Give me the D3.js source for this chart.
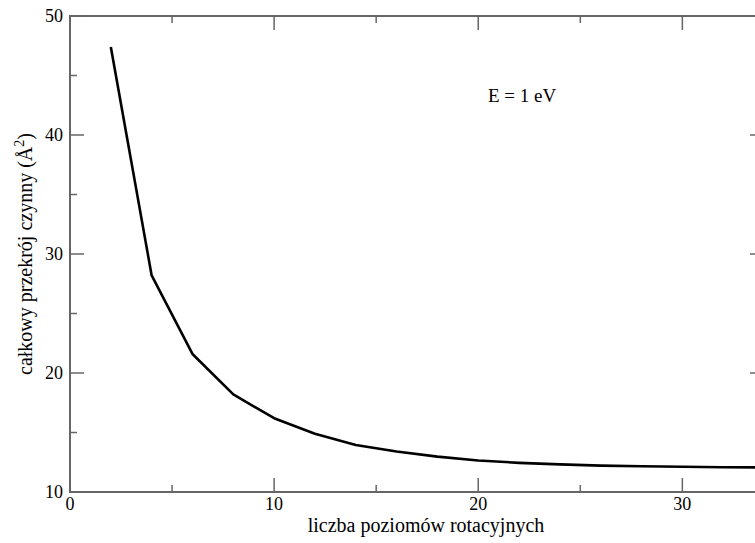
<!DOCTYPE html>
<html>
<head>
<meta charset="utf-8">
<script src="https://cdn.jsdelivr.net/npm/d3@7"></script>
<style>
  body { margin: 0; background: #fff; }
  svg text { font-family: "Liberation Serif", "Times New Roman", serif; fill: #000; }
</style>
</head>
<body>
<div id="chart"></div>
<script>
// liczba poziomów rotacyjnych
const levels = [2, 4, 6, 8, 10, 12, 14, 16, 18, 20, 22, 24, 26, 28, 30, 32, 34];
// całkowy przekrój czynny (Å^2)
const crossSection = [47.4, 28.2, 21.6, 18.2, 16.2, 14.9, 13.95, 13.4, 12.97, 12.65, 12.45, 12.32, 12.22, 12.17, 12.12, 12.08, 12.07];
const xMajor = [0, 10, 20, 30];
const xMinor = [5, 15, 25];
const yMajor = [10, 20, 30, 40, 50];
const yMinor = [15, 25, 35, 45];

const width = 755, height = 543;
const plotLeft = 70, plotTop = 16, plotRight = 764, plotBottom = 492;

const svg = d3.select("#chart")
  .append("svg")
  .attr("width", width)
  .attr("height", height);

const x = d3.scaleLinear().domain([0, 34]).range([plotLeft, plotRight]);
const y = d3.scaleLinear().domain([10, 50]).range([plotBottom, plotTop]);

const axisColor = "#666";

// frame
svg.append("rect")
  .attr("x", plotLeft).attr("y", plotTop)
  .attr("width", plotRight - plotLeft).attr("height", plotBottom - plotTop)
  .attr("fill", "none")
  .attr("stroke", axisColor)
  .attr("stroke-width", 2);

// ticks (inward, mirrored on all sides)
function xTicks(vals, len) {
  vals.forEach(v => {
    svg.append("line")
      .attr("x1", x(v)).attr("x2", x(v))
      .attr("y1", plotBottom).attr("y2", plotBottom - len)
      .attr("stroke", axisColor).attr("stroke-width", 1.5);
    svg.append("line")
      .attr("x1", x(v)).attr("x2", x(v))
      .attr("y1", plotTop).attr("y2", plotTop + len)
      .attr("stroke", axisColor).attr("stroke-width", 1.5);
  });
}
function yTicks(vals, len) {
  vals.forEach(v => {
    svg.append("line")
      .attr("x1", plotLeft).attr("x2", plotLeft + len)
      .attr("y1", y(v)).attr("y2", y(v))
      .attr("stroke", axisColor).attr("stroke-width", 1.5);
    svg.append("line")
      .attr("x1", plotRight).attr("x2", plotRight - len)
      .attr("y1", y(v)).attr("y2", y(v))
      .attr("stroke", axisColor).attr("stroke-width", 1.5);
  });
}
xTicks(xMajor, 14);
xTicks(xMinor, 7);
yTicks(yMajor, 14);
yTicks(yMinor, 7);

// tick labels
svg.selectAll(".xlab")
  .data(xMajor)
  .enter().append("text")
  .attr("x", d => x(d))
  .attr("y", plotBottom + 18)
  .attr("text-anchor", "middle")
  .attr("font-size", "18px")
  .text(d => d);

svg.selectAll(".ylab")
  .data(yMajor)
  .enter().append("text")
  .attr("x", plotLeft - 7)
  .attr("y", d => y(d) + 6)
  .attr("text-anchor", "end")
  .attr("font-size", "18px")
  .text(d => d);

// axis titles
svg.append("text")
  .attr("x", 426)
  .attr("y", 532)
  .attr("text-anchor", "middle")
  .attr("font-size", "20px")
  .text("liczba poziomów rotacyjnych");

const yt = svg.append("text")
  .attr("transform", "translate(32,254) rotate(-90)")
  .attr("text-anchor", "middle")
  .attr("font-size", "20px");
yt.append("tspan").text("całkowy przekrój czynny (Å");
yt.append("tspan").attr("dy", -8).attr("font-size", "14px").text("2");
yt.append("tspan").attr("dy", 8).text(")");

// annotation
svg.append("text")
  .attr("x", 488)
  .attr("y", 102)
  .attr("font-size", "19px")
  .text("E = 1 eV");

// curve
const line = d3.line()
  .x((d, i) => x(levels[i]))
  .y(d => y(d));

svg.append("path")
  .datum(crossSection)
  .attr("d", line)
  .attr("fill", "none")
  .attr("stroke", "#000")
  .attr("stroke-width", 2.6)
  .attr("stroke-linejoin", "round");
</script>
</body>
</html>
